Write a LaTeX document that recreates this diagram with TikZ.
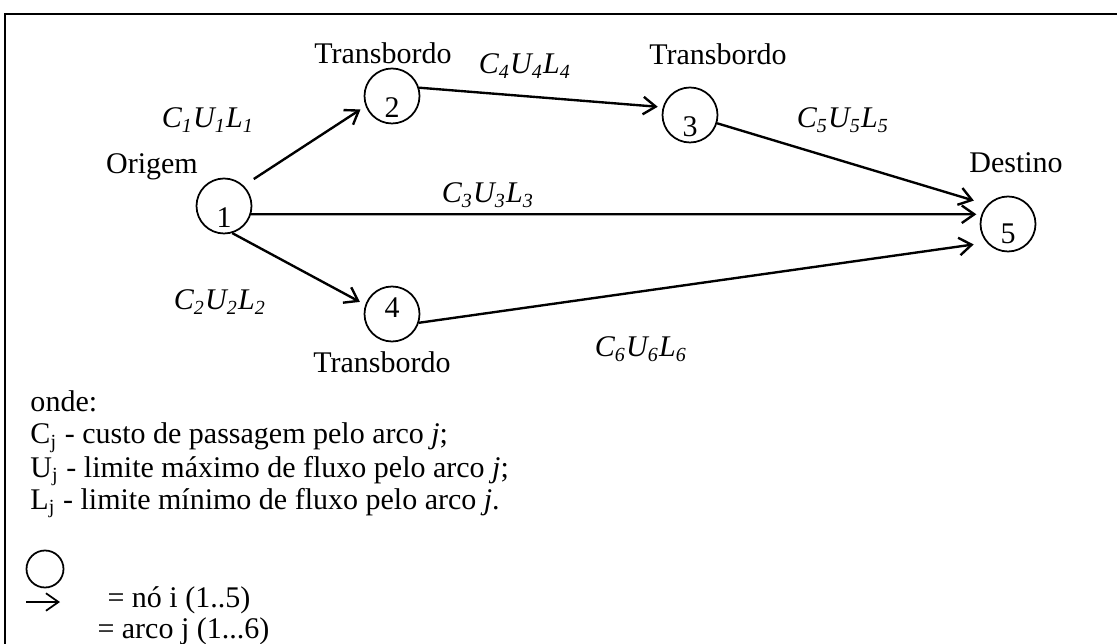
\documentclass[tikz,border=0pt]{standalone}
\usepackage{fontspec}
\setmainfont{Liberation Serif}
\usetikzlibrary{arrows.meta}

\newcommand{\cul}[1]{\textit{C\textsubscript{#1}U\textsubscript{#1}L\textsubscript{#1}}}

\begin{document}
\begin{tikzpicture}[x=0.4pt, y=-0.4pt,
        every node/.style={font=\fontsize{12}{14}\selectfont},
        stop/.style={draw, circle, line width=0.7pt, minimum size=22pt, inner sep=0pt},
        dig/.style={inner sep=0pt},
        txt/.style={anchor=base, inner sep=0pt},
        lgd/.style={anchor=base west, inner sep=0pt},
        arc/.style={->, line width=0.95pt},
        >={Straight Barb[length=5pt,width=7pt]}]
        \useasboundingbox (0,0) rectangle (1117,644);

        % frame
        \draw[line width=1.1pt] (5,700) -- (5,14) -- (1200,14);

        % network
        \node[stop, label={[dig, yshift=-4.8pt]center:1}] (n1) at (224,206) {};
        \node[stop, label={[dig, yshift=-4.8pt]center:2}] (n2) at (392,96) {};
        \node[stop, label={[dig, yshift=-4.8pt]center:3}] (n3) at (690,115) {};
        \node[stop, label={[dig, yshift=2.4pt]center:4}] (n4) at (392,314) {};
        \node[stop, label={[dig, yshift=-4pt]center:5}] (n5) at (1008,224) {};

        \node[txt] (orig) at (152,174) {Origem};
        \node[txt] (trans2) at (383,64) {Transbordo};
        \node[txt] (trans3) at (718,65) {Transbordo};
        \node[txt] (trans4) at (382,373) {Transbordo};
        \node[txt] (dest) at (1016,173) {Destino};

        \draw[arc, shorten <=4.8pt, shorten >=2.4pt] (n1.46) -- (n2.201);
        \draw[arc, shorten >=2pt] (n2.17) -- (n3.164);
        \draw[arc, shorten >=5.6pt] (n3.-17) -- (n5.137);
        \draw[arc, shorten >=2pt] (n1.-17) -- (n5.160);
        \draw[arc, shorten >=2.4pt] (n1.-73) -- (n4.161);
        \draw[arc, shorten >=5.2pt] (n4.-18) -- (n5.221);

        \node[txt] (a1) at (208,128) {\cul{1}};
        \node[txt] (a2) at (220,310) {\cul{2}};
        \node[txt] (a3) at (488,203) {\cul{3}};
        \node[txt] (a4) at (525,74) {\cul{4}};
        \node[txt] (a5) at (843,128) {\cul{5}};
        \node[txt] (a6) at (641,357) {\cul{6}};

        % legend
        \node[lgd] (onde) at (30,412) {onde:};
        \node[lgd] (lc) at (30,444) {C\textsubscript{j} - custo de passagem pelo arco \textit{j};};
        \node[lgd] (lu) at (30,477) {U\textsubscript{j} - limite máximo de fluxo pelo arco \textit{j};};
        \node[lgd] (ll) at (30,509) {L\textsubscript{j} - limite mínimo de fluxo pelo arco \textit{j}.};

        \node[stop, minimum size=14.8pt] (key) at (45,569) {};
        \coordinate (k1) at (26,602);
        \coordinate (k2) at (60,602);
        \draw[->, line width=0.7pt] (k1) -- (k2);
        \node[lgd] (lnode) at (107,607) {= nó i (1..5)};
        \node[lgd] (larc) at (97,638) {= arco j (1...6)};
\end{tikzpicture}
\end{document}
